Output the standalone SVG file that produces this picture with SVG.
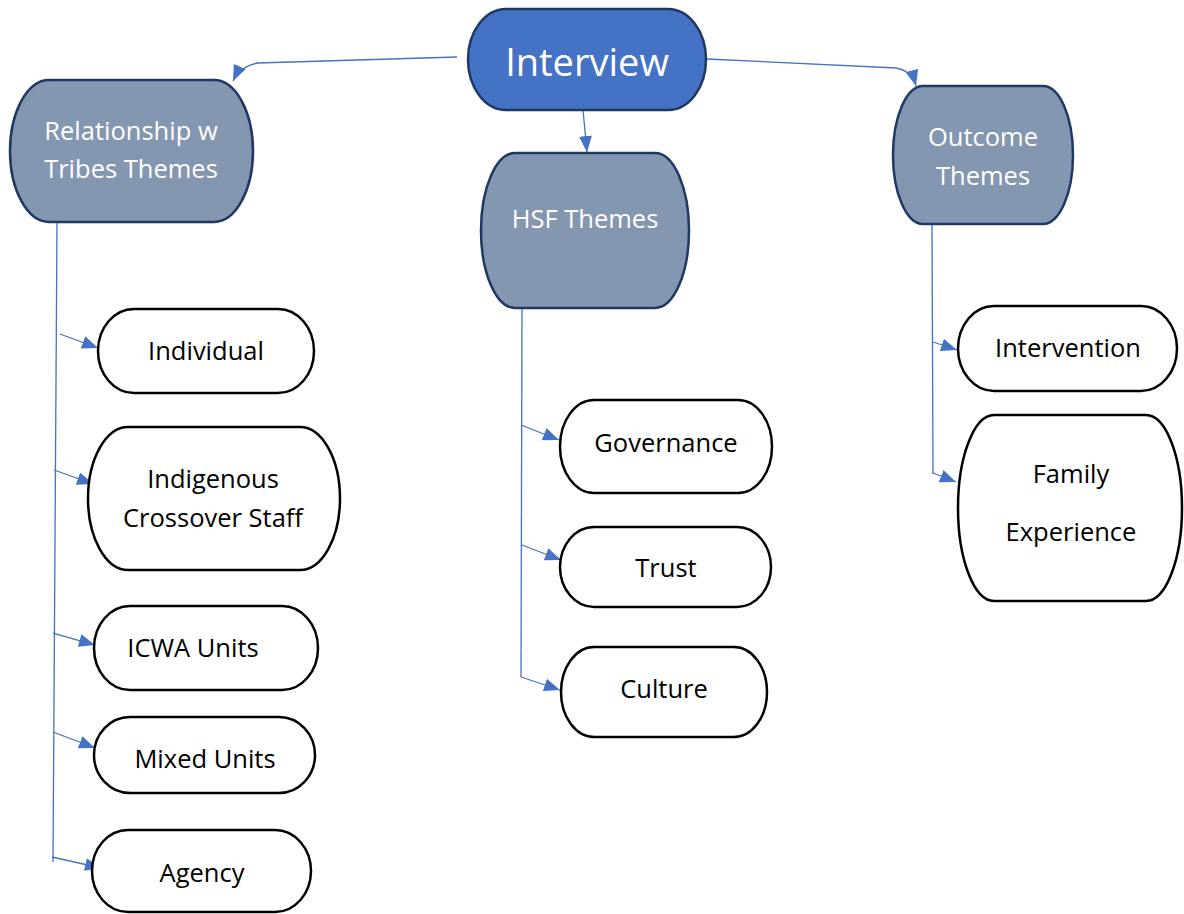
<svg xmlns="http://www.w3.org/2000/svg" width="1184" height="914" viewBox="0 0 1184 914">
  <style>
    .root { fill: #4472C4; stroke: #1F3864; stroke-width: 2.5; }
    .theme { fill: #8497B0; stroke: #1F3864; stroke-width: 2.5; }
    .leaf { fill: #FFFFFF; stroke: #000000; stroke-width: 2.5; }
    text { font-family: "Open Sans", "Noto Sans", "Liberation Sans", sans-serif; text-anchor: middle; }
    .t-root { fill: #FFFFFF; font-size: 38px; }
    .t-theme { fill: #FFFFFF; font-size: 25.5px; }
    .t-leaf { fill: #000000; font-size: 25.5px; }
    .link { fill: none; stroke: #4472C4; stroke-width: 1.3; }
  </style>
  <defs>
    <marker id="arrow" viewBox="0 0 16 13" refX="16" refY="6.5" markerWidth="16" markerHeight="13" markerUnits="userSpaceOnUse" orient="auto">
      <path d="M0,0 L16,6.5 L0,13 Z" fill="#4472C4"/>
    </marker>
  </defs>

  <rect width="1184" height="914" fill="#FFFFFF"/>

  <!-- connectors -->
  <g id="connectors">
    <path class="link" d="M457,57 L258,63 Q240,66 233,81" marker-end="url(#arrow)"/>
    <path class="link" d="M707,59 L896,68 Q912,71 916,86" marker-end="url(#arrow)"/>
    <path class="link" d="M583,110 L587,152" marker-end="url(#arrow)"/>

    <path class="link" d="M57,222 L53,862"/>
    <path class="link" d="M60,334 L98,348" marker-end="url(#arrow)"/>
    <path class="link" d="M54,470 L93,484" marker-end="url(#arrow)"/>
    <path class="link" d="M53,633 L95,645" marker-end="url(#arrow)"/>
    <path class="link" d="M53,732 L95,748" marker-end="url(#arrow)"/>
    <path class="link" d="M52,857 L101,868" marker-end="url(#arrow)"/>

    <path class="link" d="M522,308 L521,677"/>
    <path class="link" d="M521,425 L559,440" marker-end="url(#arrow)"/>
    <path class="link" d="M522,545 L561,560" marker-end="url(#arrow)"/>
    <path class="link" d="M521,677 L560,690" marker-end="url(#arrow)"/>

    <path class="link" d="M932,224 L933,474"/>
    <path class="link" d="M933,342 L957,350" marker-end="url(#arrow)"/>
    <path class="link" d="M933,473 L956,482" marker-end="url(#arrow)"/>
  </g>

  <!-- top level -->
  <g id="interview">
    <rect class="root" x="468" y="9" width="238" height="101" rx="38" ry="50.5"/>
    <text class="t-root" x="587" y="76">Interview</text>
  </g>

  <!-- theme groups -->
  <g id="relationship-themes">
    <rect class="theme" x="10" y="80" width="243" height="142" rx="39" ry="71"/>
    <text class="t-theme" x="131" y="140">Relationship w</text>
    <text class="t-theme" x="131" y="178">Tribes Themes</text>
  </g>
  <g id="hsf-themes">
    <rect class="theme" x="481" y="153" width="208" height="155" rx="34" ry="77.5"/>
    <text class="t-theme" x="585" y="228">HSF Themes</text>
  </g>
  <g id="outcome-themes">
    <rect class="theme" x="893" y="86" width="180" height="138" rx="30" ry="69"/>
    <text class="t-theme" x="983" y="146">Outcome</text>
    <text class="t-theme" x="983" y="185">Themes</text>
  </g>

  <!-- relationship leaves -->
  <g id="individual">
    <rect class="leaf" x="98" y="309" width="216" height="84" rx="36" ry="42"/>
    <text class="t-leaf" x="206" y="360">Individual</text>
  </g>
  <g id="indigenous-crossover-staff">
    <rect class="leaf" x="88" y="427" width="252" height="143" rx="40" ry="71.5"/>
    <text class="t-leaf" x="213" y="488">Indigenous</text>
    <text class="t-leaf" x="213" y="527">Crossover Staff</text>
  </g>
  <g id="icwa-units">
    <rect class="leaf" x="94" y="606" width="224" height="84" rx="36" ry="42"/>
    <text class="t-leaf" x="193" y="657">ICWA Units</text>
  </g>
  <g id="mixed-units">
    <rect class="leaf" x="94" y="717" width="221" height="76" rx="36" ry="38"/>
    <text class="t-leaf" x="205" y="768">Mixed Units</text>
  </g>
  <g id="agency">
    <rect class="leaf" x="92" y="830" width="219" height="82" rx="36" ry="41"/>
    <text class="t-leaf" x="202" y="882">Agency</text>
  </g>

  <!-- HSF leaves -->
  <g id="governance">
    <rect class="leaf" x="560" y="400" width="212" height="93" rx="34" ry="46.5"/>
    <text class="t-leaf" x="666" y="452">Governance</text>
  </g>
  <g id="trust">
    <rect class="leaf" x="560" y="527" width="211" height="80" rx="34" ry="40"/>
    <text class="t-leaf" x="666" y="577">Trust</text>
  </g>
  <g id="culture">
    <rect class="leaf" x="561" y="647" width="206" height="90" rx="33" ry="45"/>
    <text class="t-leaf" x="664" y="698">Culture</text>
  </g>

  <!-- outcome leaves -->
  <g id="intervention">
    <rect class="leaf" x="958" y="306" width="219" height="85" rx="36" ry="42.5"/>
    <text class="t-leaf" x="1068" y="357">Intervention</text>
  </g>
  <g id="family-experience">
    <rect class="leaf" x="958" y="415" width="224" height="186" rx="36" ry="93"/>
    <text class="t-leaf" x="1071" y="483">Family</text>
    <text class="t-leaf" x="1071" y="541">Experience</text>
  </g>
</svg>
